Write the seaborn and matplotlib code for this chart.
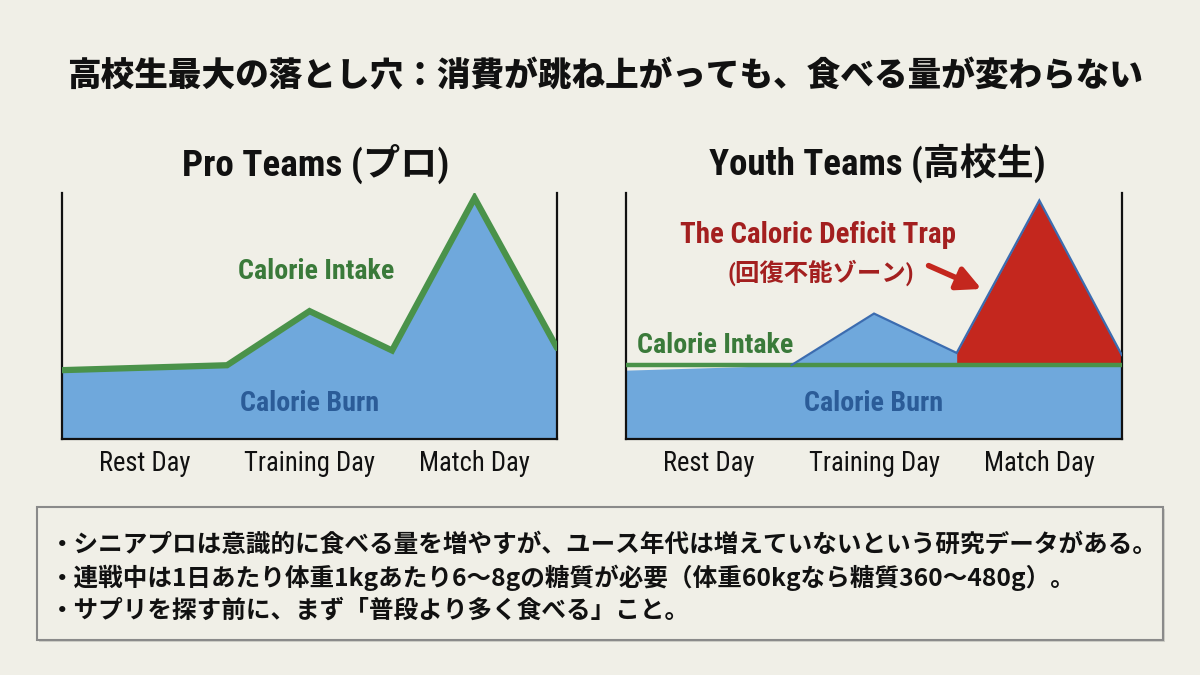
"""
calorie intake vs burn, pro teams vs youth teams
"""

import matplotlib.pyplot as plt
import pandas as pd
import seaborn as sns
from matplotlib import font_manager
from matplotlib.patches import Rectangle

# data (0-100 scale, x in day units)
days = ["Rest Day", "Training Day", "Match Day"]
day_pos = [-0.5, 0.5, 1.0, 1.5, 2.0, 2.5]

pro_intake = [28, 30, 52, 36, 98, 37]
pro_burn = [28, 30, 52, 36, 98, 37]

youth_intake = [30, 30, 30, 30, 30, 30]
youth_burn = [28, 30, 51, 35, 97, 34]

title = "高校生最大の落とし穴：消費が跳ね上がっても、食べる量が変わらない"
panel_titles = ["Pro Teams (プロ)", "Youth Teams (高校生)"]
bullets = [
    "・シニアプロは意識的に食べる量を増やすが、ユース年代は増えていないという研究データがある。",
    "・連戦中は1日あたり体重1kgあたり6〜8gの糖質が必要（体重60kgなら糖質360〜480g）。",
    "・サプリを探す前に、まず「普段より多く食べる」こと。",
]

bg = "#f0efe7"
blue_fill = "#6fa8dc"
blue_line = "#3b6cb0"
green_line = "#4a924a"
green_text = "#3a7a3a"
blue_text = "#2b5c98"
red_fill = "#c4271e"
red_text = "#a31f1f"

sns.set_theme(style="white")
cjk = ["Noto Sans CJK JP", "DejaVu Sans"]

# the reference uses a condensed face for the latin labels
try:
    font_manager.findfont("Roboto Condensed", fallback_to_default=False)
    plt.rcParams["font.family"] = ["Roboto Condensed", "Noto Sans CJK JP", "DejaVu Sans"]
    k = 1.2
except ValueError:
    plt.rcParams["font.family"] = cjk
    k = 1.0

pro = pd.DataFrame({"pos": day_pos, "intake": pro_intake, "burn": pro_burn})
youth = pd.DataFrame({"pos": day_pos, "intake": youth_intake, "burn": youth_burn})

fig = plt.figure(figsize=(12, 6.75), dpi=100, facecolor=bg)
ax1 = fig.add_axes([0.0517, 0.3496, 0.4125, 0.3644])
ax2 = fig.add_axes([0.5217, 0.3496, 0.4133, 0.3644])

for ax in (ax1, ax2):
    ax.set_facecolor(bg)
    ax.set_xlim(-0.5, 2.5)
    ax.set_ylim(0, 100)
    ax.set_yticks([])
    ax.set_xticks(range(len(days)))
    ax.set_xticklabels(days, fontsize=16 * k, color="#111111")
    ax.tick_params(axis="x", length=0, pad=8)
    ax.spines["top"].set_visible(False)
    for s in ("left", "right", "bottom"):
        ax.spines[s].set_color("#111111")
        ax.spines[s].set_linewidth(1.6)

# pro teams: intake follows burn
ax1.fill_between(pro["pos"], 0, pro["burn"], color=blue_fill, lw=0, zorder=1)
sns.lineplot(data=pro, x="pos", y="intake", ax=ax1, color=green_line,
             linewidth=4.5, solid_joinstyle="miter", zorder=3)
ax1.text(1.04, 68, "Calorie Intake", color=green_text, fontsize=16.8 * k,
         fontweight="bold", ha="center", va="center")
ax1.text(1.0, 14.6, "Calorie Burn", color=blue_text, fontsize=16.8 * k,
         fontweight="bold", ha="center", va="center")

# youth teams: intake stays flat
ax2.fill_between(youth["pos"], 0, youth["burn"], color=blue_fill, lw=0, zorder=1)
match = youth[youth["pos"] >= 1.5]
ax2.fill_between(match["pos"], match["intake"], match["burn"], color=red_fill,
                 lw=0, zorder=2)
sns.lineplot(data=youth, x="pos", y="intake", ax=ax2, color=green_line,
             linewidth=3.2, zorder=3)
sns.lineplot(data=youth[youth["pos"] >= 0.5], x="pos", y="burn", ax=ax2,
             color=blue_line, linewidth=1.6, solid_joinstyle="miter", zorder=4)
ax2.text(0.036, 38, "Calorie Intake", color=green_text, fontsize=16.8 * k,
         fontweight="bold", ha="center", va="center")
ax2.text(1.0, 14.6, "Calorie Burn", color=blue_text, fontsize=16.8 * k,
         fontweight="bold", ha="center", va="center")
ax2.text(0.66, 83, "The Caloric Deficit Trap", color=red_text, fontsize=17.3 * k,
         fontweight="bold", ha="center", va="center")
ax2.text(0.68, 67.5, "(回復不能ゾーン)", color=red_text, fontsize=17.6,
         fontweight="bold", ha="center", va="center")
ax2.annotate("", xy=(1.65, 61), xytext=(1.33, 70.5),
             arrowprops=dict(arrowstyle="-|>", color=red_fill, lw=4,
                             mutation_scale=36, shrinkA=0, shrinkB=0))

for ax in (ax1, ax2):
    ax.set_xlabel("")
    ax.set_ylabel("")

ax1.text(0.513, 1.12, panel_titles[0], transform=ax1.transAxes, fontsize=22.3 * k,
         fontweight="bold", ha="center", va="center", color="#111111")
ax2.text(0.506, 1.12, panel_titles[1], transform=ax2.transAxes, fontsize=22.1 * k,
         fontweight="bold", ha="center", va="center", color="#111111")

fig.text(0.504, 1 - 76 / 675, title, family=cjk, fontsize=24.2, fontweight="heavy",
         ha="center", va="center", color="#111111")

# note box
fig.patches.append(Rectangle((0.0325, 0.0490), 0.938, 0.197, transform=fig.transFigure,
                             facecolor="#cfcfc8", edgecolor="none", zorder=0))
fig.patches.append(Rectangle((0.0308, 0.0519), 0.938, 0.197, transform=fig.transFigure,
                             facecolor=bg, edgecolor="#8a8a8a", lw=1.5, zorder=1))
for i, line in enumerate(bullets):
    fig.text(50 / 1200, 1 - (545 + 33 * i) / 675, line, family=cjk, fontsize=17.7,
             fontweight="bold", ha="left", va="center", color="#111111")

fig.savefig("out.png", dpi=100, facecolor=bg)
